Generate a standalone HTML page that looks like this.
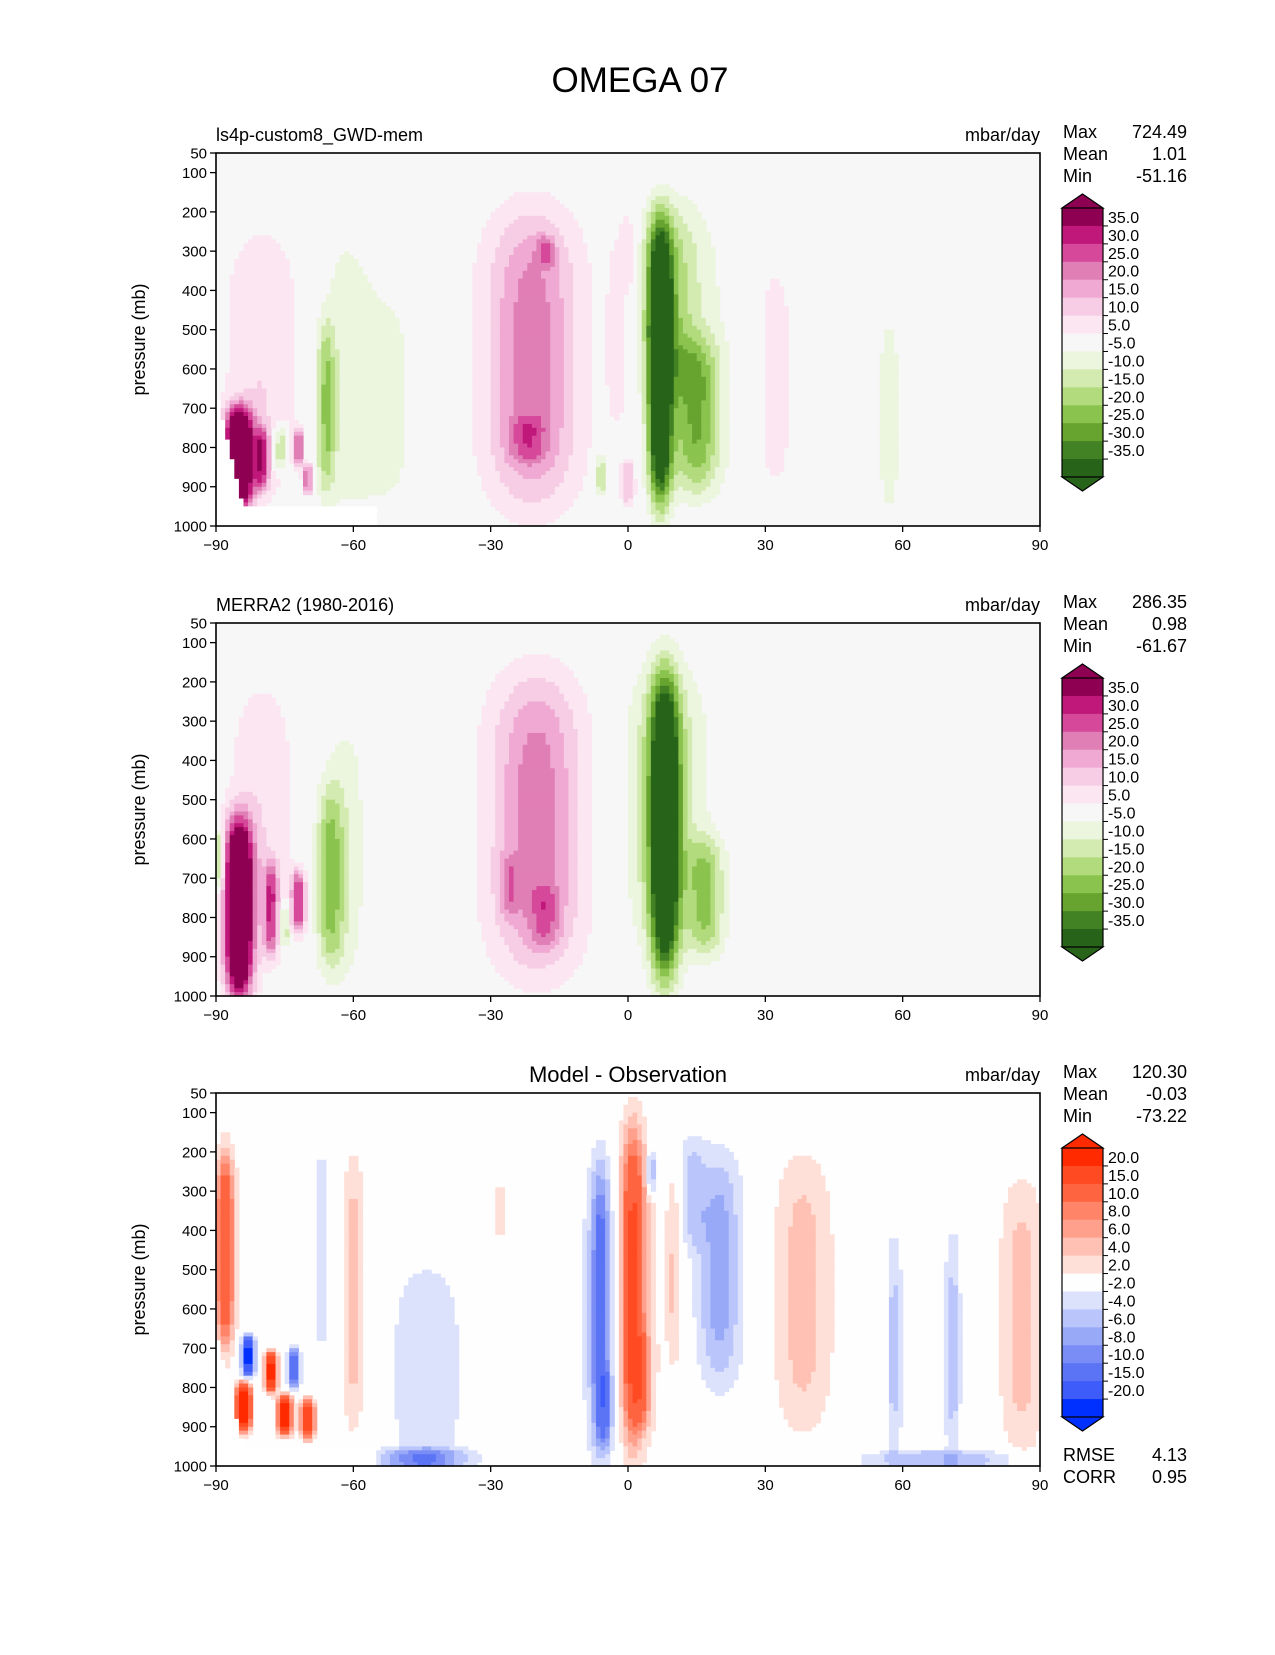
<!DOCTYPE html>
<html><head><meta charset="utf-8"><style>
body{margin:0;background:#fff;}
svg text{font-family:"Liberation Sans","DejaVu Sans",sans-serif;fill:#000;}
</style></head><body>
<svg id="fig" xmlns="http://www.w3.org/2000/svg" width="1275" height="1650" viewBox="0 0 1275 1650">
<rect width="1275" height="1650" fill="#fff"/>
<text x="640" y="92" font-size="35" text-anchor="middle">OMEGA 07</text>
</svg>
<script>
// ---- data: blobs [lat centre, pressure centre, lat width, pressure width, amplitude]
const modelLat  = [7, 9, 15, 13, -21, -21, -18, -22, -66, -62, -80, -85, -80, -76, -72, -70, 32, 57, 0, -6, 0, -2, -52];
const modelPres = [590, 420, 720, 540, 570, 580, 300, 780, 700, 600, 590, 830, 830, 800, 800, 880, 620, 720, 890, 870, 300, 500, 680];
const modelLw   = [2.5, 6, 5, 10, 9, 14, 2, 4, 2, 6, 9, 3, 1.5, 1.5, 1, 1, 5, 3, 1.5, 1.5, 1.5, 3, 8];
const modelPw   = [350, 250, 200, 360, 370, 410, 40, 60, 220, 380, 360, 130, 80, 60, 50, 40, 340, 300, 60, 60, 100, 300, 330];
const modelAmp  = [-55, -12, -20, -7, 15, 8, 12, 10, -18, -7, 10, 60, 25, -20, 25, 25, 7, -7, 15, -15, 7, 6, -6];

const obsLat  = [8, 8, 17, -20, -20, -18, -26, -65, -62, -80, -85, -78, -72, -75, -90, 35, 44, 62, 8];
const obsPres = [570, 480, 750, 560, 560, 800, 720, 700, 620, 560, 780, 780, 760, 820, 650, 700, 780, 780, 560];
const obsLw   = [3, 8, 4, 9, 14, 3, 2, 3, 6, 8, 3, 1.5, 1.5, 1, 1.5, 1, 1, 1, 10];
const obsPw   = [380, 330, 150, 370, 420, 80, 80, 230, 360, 380, 230, 120, 80, 60, 80, 200, 150, 120, 400];
const obsAmp  = [-50, -8, -18, 15, 8, 10, 10, -18, -7, 9, 60, 25, 30, -20, -25, 6, 6, -6, -7];

const diffLat  = [1, 3, -6, -5, 20, 14, 5, 38, 86, -44, -45, -60, -67, -88, -83, -84, -78, -73, -75, -70, -28, 58, 71, 70, 10, -6, 2, 65, 40];
const diffPres = [540, 780, 600, 850, 500, 300, 250, 560, 620, 760, 985, 560, 450, 450, 720, 850, 760, 750, 870, 880, 350, 700, 700, 985, 500, 600, 560, 700, 560];
const diffLw   = [2.5, 2, 2, 1.5, 5, 3, 1, 6, 5, 8, 10, 2.5, 2, 2, 1.2, 1.5, 1.2, 1.2, 1.5, 1.5, 2, 1.5, 1.5, 20, 1.5, 5, 6, 8, 10];
const diffPw   = [400, 120, 360, 100, 300, 150, 60, 360, 360, 280, 30, 360, 300, 250, 50, 60, 50, 50, 50, 50, 80, 300, 300, 25, 250, 420, 420, 330, 380];
const diffAmp  = [14, 6, -10, -6, -7, -4, -8, 4, 5, -4, -8, 5, -3, 15, -25, 30, 25, -15, 25, 20, 3, -4, -4, -5, 4, -3, 3, -1.5, 1];

const piygBounds = [-35, -30, -25, -20, -15, -10, -5, 5, 10, 15, 20, 25, 30, 35];
const piygLabels = ["35.0","30.0","25.0","20.0","15.0","10.0","5.0","-5.0","-10.0","-15.0","-20.0","-25.0","-30.0","-35.0"];
const diffBounds = [-20, -15, -10, -8, -6, -4, -2, 2, 4, 6, 8, 10, 15, 20];
const diffLabels = ["20.0","15.0","10.0","8.0","6.0","4.0","2.0","-2.0","-4.0","-6.0","-8.0","-10.0","-15.0","-20.0"];
const xTickVals = [-90, -60, -30, 0, 30, 60, 90];
const xTickText = ["\u221290", "\u221260", "\u221230", "0", "30", "60", "90"];
const yTickVals = [50, 100, 200, 300, 400, 500, 600, 700, 800, 900, 1000];

const statsModel = ["724.49", "1.01", "-51.16"];
const statsObs   = ["286.35", "0.98", "-61.67"];
const statsDiff  = ["120.30", "-0.03", "-73.22"];

const piygColors = ['#276419','#428224','#66a32f','#8bc34f','#b2db7d','#d3ebb0','#ecf5de','#f7f7f7','#fbe6f1','#f7cde5','#efa9d2','#e07fb5','#d6489a','#c0177a','#8e0152'];
const bwrColors  = ['#0030ff','#3d5cf9','#5b74f6','#7a8cf5','#98a9f8','#bac6fb','#dde2fc','#fefefe','#ffe0d8','#ffc1b3','#ffa08c','#ff8468','#ff6440','#ff4a22','#ff2a00'];

const NS = "http://www.w3.org/2000/svg";
const svg = document.getElementById('fig');
const L = 216, R = 1040, H = 373;
function X(lat){ return L + (lat + 90) / 180 * (R - L); }
function mk(tag, attrs, parent){ const e = document.createElementNS(NS, tag); for (const k in attrs) e.setAttribute(k, attrs[k]); (parent||svg).appendChild(e); return e; }

function panel(o){
  const top = 153 + o.off;
  const Y = p => top + (p - 50) / 950 * H;
  const g = mk('g', {});
  
  
  const bgc = o.colors[7];
  mk('rect', {x:L, y:top, width:R-L, height:H, fill:bgc}, g);
  function field(lat, p){
    let v = 0;
    for (let i = 0; i < o.lat.length; i++){
      const dx = (lat - o.lat[i]) / o.lw[i], dp = (p - o.pres[i]) / o.pw[i];
      v += o.amp[i] * Math.exp(-dx*dx - dp*dp*dp*dp);
    }
    return v;
  }
  function cls(v){ let k = 0; while (k < o.bounds.length && v >= o.bounds[k]) k++; return k; }
  const dl = 1.0, dpp = 10;
  for (let p = 50; p < 1000; p += dpp){
    let runStart = null, runC = null;
    const flush = (endLat) => {
      if (runStart !== null && runC !== null){
        const r = mk('rect', {x:X(runStart).toFixed(2), y:Y(p).toFixed(2), width:(X(endLat)-X(runStart)+0.6).toFixed(2), height:(Y(p+dpp)-Y(p)+0.6).toFixed(2), fill:runC}, g);
        
        
      }
    };
    for (let lat = -90; lat < 90; lat += dl){
      const lc = lat + dl/2, pc = p + dpp/2;
      let c;
      if (o.mask && ((pc > 950 && lc < -55) || (lc < -84 && pc > 650 + (lc + 90) / 6 * 300))) c = '#ffffff';
      else { const k = cls(field(lc, pc)); c = k === 7 ? null : o.colors[k]; }
      if (c !== runC){ flush(lat); runStart = lat; runC = c; }
    }
    flush(90);
  }
  const fr = mk('rect', {x:L, y:top, width:R-L, height:H, fill:'none', stroke:'#000', 'stroke-width':1.6}, g);
  
  
  xTickVals.forEach((v, i) => {
    mk('line', {x1:X(v), x2:X(v), y1:top+H, y2:top+H+6, stroke:'#000', 'stroke-width':1.3}, g);
    const t = mk('text', {x:X(v), y:top+H+24, 'font-size':15, 'text-anchor':'middle'}, g);
    t.textContent = xTickText[i];
    
    
  });
  yTickVals.forEach(v => {
    mk('line', {x1:L-6, x2:L, y1:Y(v), y2:Y(v), stroke:'#000', 'stroke-width':1.3}, g);
    const t = mk('text', {x:L-9, y:Y(v)+5.5, 'font-size':15, 'text-anchor':'end'}, g);
    t.textContent = String(v);
    
    
  });
  const yl = mk('text', {x:0, y:0, 'font-size':18, 'text-anchor':'middle', transform:`translate(145,${top+H/2}) rotate(-90)`}, g);
  yl.textContent = 'pressure (mb)';
  
  
  if (o.left){
    const t = mk('text', {x:L, y:top-12, 'font-size':18}, g);
    t.textContent = o.left;
    
    
  }
  if (o.center){
    const t = mk('text', {x:(L+R)/2, y:top-11, 'font-size':22, 'text-anchor':'middle'}, g);
    t.textContent = o.center;
    
    
  }
  const u = mk('text', {x:R, y:top-12, 'font-size':18, 'text-anchor':'end'}, g);
  u.textContent = 'mbar/day';
  
  
  ['Max','Mean','Min'].forEach((n, i) => {
    const a = mk('text', {x:1063, y:top-15+i*22, 'font-size':18}, g);
    a.textContent = n;
    
    
    const b = mk('text', {x:1187, y:top-15+i*22, 'font-size':18, 'text-anchor':'end'}, g);
    b.textContent = o.stats[i];
    
    
  });
  const cb = mk('g', {}, g);
  
  
  const cx0 = 1062, cx1 = 1103, ct = 208 + o.off, cbb = 477 + o.off, seg = (cbb - ct) / 15;
  for (let i = 0; i < 15; i++){
    mk('rect', {x:cx0, y:ct + i*seg, width:cx1-cx0, height:seg+0.5, fill:o.colors[14-i]}, cb);
  }
  mk('polygon', {points:`${cx0},${ct} ${(cx0+cx1)/2},${ct-14} ${cx1},${ct}`, fill:o.colors[14], stroke:'#000', 'stroke-width':1.2}, cb);
  mk('polygon', {points:`${cx0},${cbb} ${(cx0+cx1)/2},${cbb+14} ${cx1},${cbb}`, fill:o.colors[0], stroke:'#000', 'stroke-width':1.2}, cb);
  mk('polyline', {points:`${cx0},${ct} ${cx0},${cbb}`, stroke:'#000', 'stroke-width':1.2, fill:'none'}, cb);
  mk('polyline', {points:`${cx1},${ct} ${cx1},${cbb}`, stroke:'#000', 'stroke-width':1.2, fill:'none'}, cb);
  o.labels.forEach((lab, i) => {
    const yy = ct + (i+1)*seg;
    mk('line', {x1:cx1, x2:cx1+5, y1:yy, y2:yy, stroke:'#000', 'stroke-width':1}, cb);
    const t = mk('text', {x:cx1+5, y:yy - 3, 'font-size':16}, cb);
    t.textContent = lab;
    
    
  });
}

panel({name:'model-panel', off:0, lat:modelLat, pres:modelPres, lw:modelLw, pw:modelPw, amp:modelAmp, bounds:piygBounds, colors:piygColors, labels:piygLabels, mask:true, left:'ls4p-custom8_GWD-mem', stats:statsModel});
panel({name:'obs-panel', off:470, lat:obsLat, pres:obsPres, lw:obsLw, pw:obsPw, amp:obsAmp, bounds:piygBounds, colors:piygColors, labels:piygLabels, mask:false, left:'MERRA2 (1980-2016)', stats:statsObs});
panel({name:'diff-panel', off:940, lat:diffLat, pres:diffPres, lw:diffLw, pw:diffPw, amp:diffAmp, bounds:diffBounds, colors:bwrColors, labels:diffLabels, mask:true, center:'Model - Observation', stats:statsDiff});

[['RMSE','4.13',1461],['CORR','0.95',1483]].forEach(r => {
  const a = mk('text', {x:1063, y:r[2], 'font-size':18});
  a.textContent = r[0];
  
  
  const b = mk('text', {x:1187, y:r[2], 'font-size':18, 'text-anchor':'end'});
  b.textContent = r[1];
  
  
});
</script>
</body></html>
